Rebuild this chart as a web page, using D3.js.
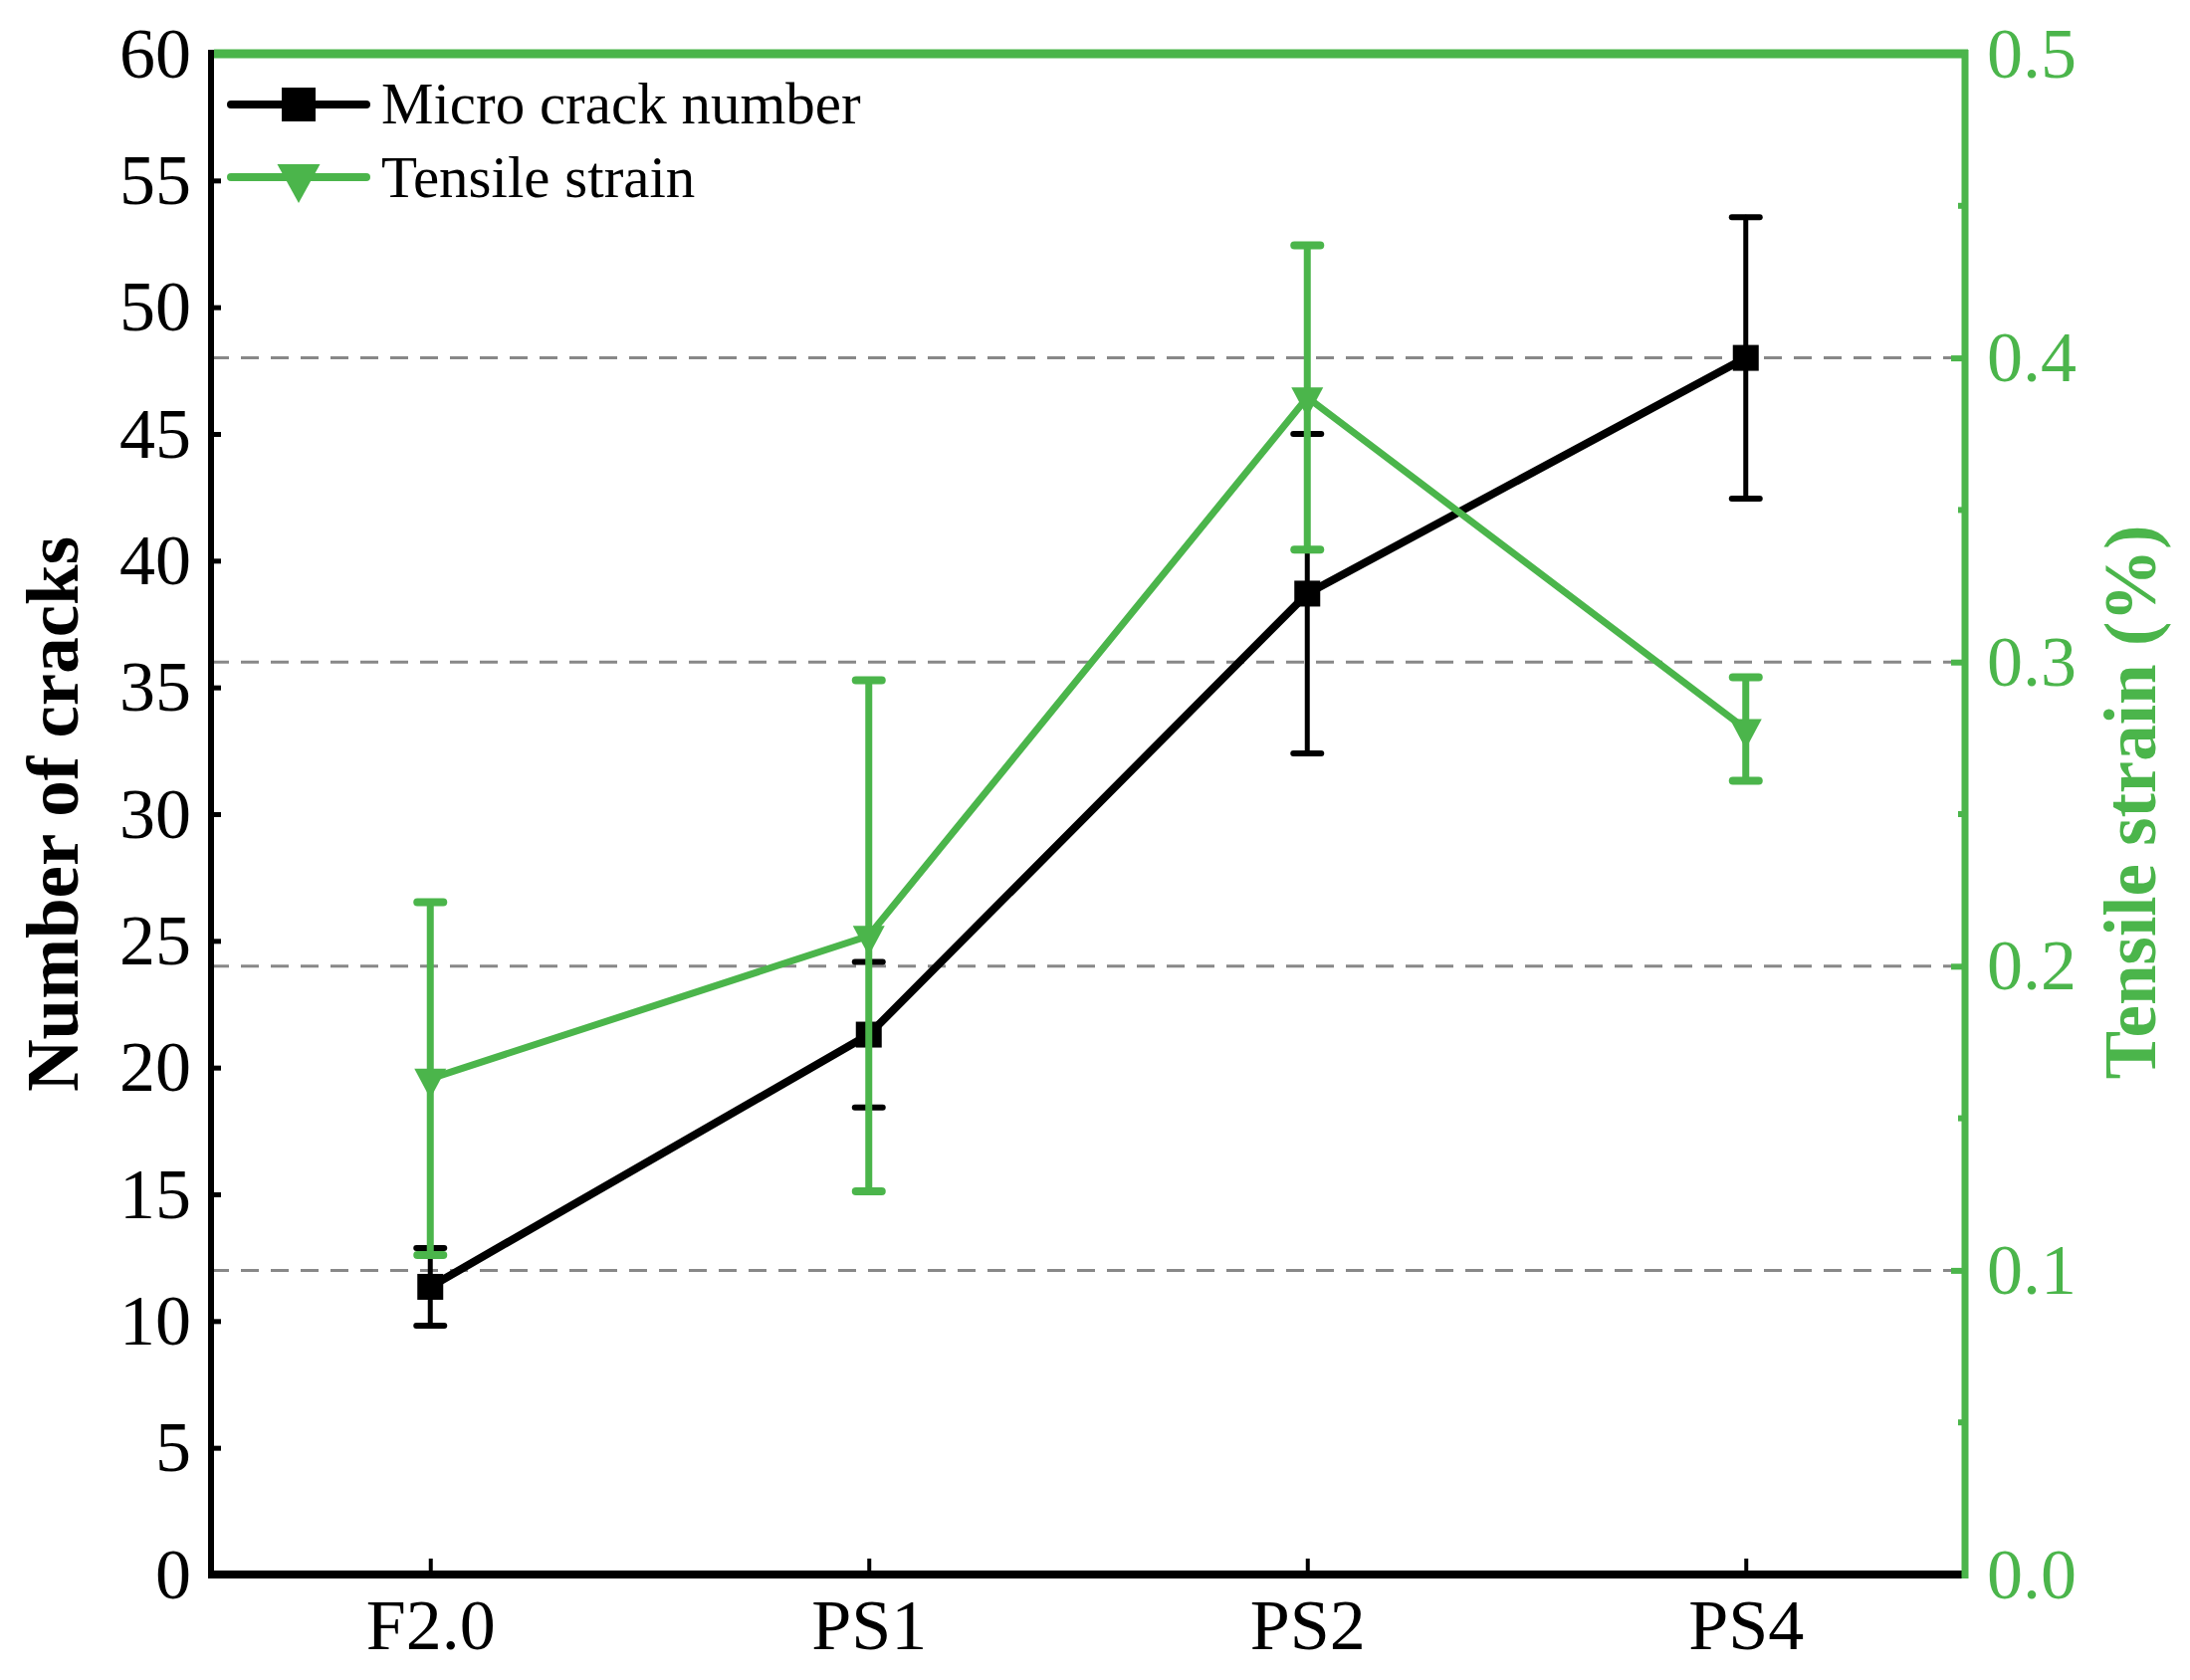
<!DOCTYPE html>
<html>
<head>
<meta charset="utf-8">
<script src="https://cdn.jsdelivr.net/npm/d3@7"></script>
<style>
  body { margin: 0; background: #fff; }
  text { font-family: "Liberation Serif", "Times New Roman", serif; }
</style>
</head>
<body>
<div id="chart"></div>
<script>
// data
const categories = ['F2.0', 'PS1', 'PS2', 'PS4'];
const crackNumber = [11.35, 21.3, 38.7, 48.0];
const crackError = [1.53, 2.87, 6.3, 5.55];
const tensileStrain = [0.163, 0.210, 0.387, 0.278];
const strainError = [0.058, 0.084, 0.050, 0.017];
const leftTicks = [0, 5, 10, 15, 20, 25, 30, 35, 40, 45, 50, 55, 60];
const rightTicks = [0.0, 0.1, 0.2, 0.3, 0.4, 0.5];
const rightMinor = [0.05, 0.15, 0.25, 0.35, 0.45];
const gridValues = [0.1, 0.2, 0.3, 0.4];

const width = 2200;
const height = 1688;
const margin = { top: 54, right: 226, bottom: 106, left: 212 };
const green = '#4bb54b';

const svg = d3.select('#chart')
  .append('svg')
  .attr('width', width)
  .attr('height', height);

const x = d3.scalePoint()
  .domain(categories)
  .range([margin.left, width - margin.right])
  .padding(0.5);

const yLeft = d3.scaleLinear()
  .domain([0, 60])
  .range([height - margin.bottom, margin.top]);

const yRight = d3.scaleLinear()
  .domain([0, 0.5])
  .range([height - margin.bottom, margin.top]);

const x0 = margin.left, x1 = width - margin.right;
const yTop = margin.top, yBot = height - margin.bottom;

// dashed grid lines (right axis)
svg.append('g')
  .selectAll('line')
  .data(gridValues)
  .join('line')
  .attr('x1', x0).attr('x2', x1)
  .attr('y1', d => yRight(d)).attr('y2', d => yRight(d))
  .attr('stroke', '#888')
  .attr('stroke-width', 3)
  .attr('stroke-dasharray', '18,12');

// left axis
const leftAxis = svg.append('g')
  .attr('transform', `translate(${x0},0)`)
  .call(d3.axisLeft(yLeft).tickValues(leftTicks).tickSizeInner(-10).tickSizeOuter(0).tickPadding(20));
leftAxis.select('.domain').remove();
leftAxis.selectAll('.tick line').attr('stroke', '#000').attr('stroke-width', 5);
leftAxis.selectAll('.tick text')
  .attr('font-size', 72).attr('fill', '#000');

// right axis
const rightAxis = svg.append('g')
  .attr('transform', `translate(${x1},0)`)
  .call(d3.axisRight(yRight).tickValues(rightTicks).tickFormat(d3.format('.1f'))
    .tickSizeInner(-14).tickSizeOuter(0).tickPadding(22));
rightAxis.select('.domain').remove();
rightAxis.selectAll('.tick line').attr('stroke', green).attr('stroke-width', 6);
rightAxis.selectAll('.tick text')
  .attr('font-size', 72).attr('fill', green);

svg.append('g')
  .selectAll('line')
  .data(rightMinor)
  .join('line')
  .attr('x1', x1 - 7).attr('x2', x1)
  .attr('y1', d => yRight(d)).attr('y2', d => yRight(d))
  .attr('stroke', green).attr('stroke-width', 6);

// bottom axis
const bottomAxis = svg.append('g')
  .attr('transform', `translate(0,${yBot})`)
  .call(d3.axisBottom(x).tickSizeInner(-16).tickSizeOuter(0).tickPadding(24));
bottomAxis.select('.domain').remove();
bottomAxis.selectAll('.tick line').attr('stroke', '#000').attr('stroke-width', 4);
bottomAxis.selectAll('.tick text')
  .attr('font-size', 72).attr('fill', '#000');

// frame
svg.append('line').attr('x1', x0).attr('x2', x0).attr('y1', yTop - 4).attr('y2', yBot + 4)
  .attr('stroke', '#000').attr('stroke-width', 6);
svg.append('line').attr('x1', x0 - 3).attr('x2', x1).attr('y1', yBot).attr('y2', yBot)
  .attr('stroke', '#000').attr('stroke-width', 8);
svg.append('line').attr('x1', x0 + 3).attr('x2', x1 + 3).attr('y1', yTop).attr('y2', yTop)
  .attr('stroke', green).attr('stroke-width', 9);
svg.append('line').attr('x1', x1).attr('x2', x1).attr('y1', yTop - 4).attr('y2', yBot + 4)
  .attr('stroke', green).attr('stroke-width', 7);

const crackData = categories.map((c, i) => ({ c, v: crackNumber[i], e: crackError[i] }));
const strainData = categories.map((c, i) => ({ c, v: tensileStrain[i], e: strainError[i] }));

// error bars for crack number
const blackErr = svg.append('g').attr('stroke', '#000').attr('stroke-linecap', 'round');
blackErr.selectAll('line.v').data(crackData).join('line')
  .attr('x1', d => x(d.c)).attr('x2', d => x(d.c))
  .attr('y1', d => yLeft(d.v - d.e)).attr('y2', d => yLeft(d.v + d.e))
  .attr('stroke-width', 5);
blackErr.selectAll('line.top').data(crackData).join('line')
  .attr('x1', d => x(d.c) - 14).attr('x2', d => x(d.c) + 14)
  .attr('y1', d => yLeft(d.v + d.e)).attr('y2', d => yLeft(d.v + d.e))
  .attr('stroke-width', 6);
blackErr.selectAll('line.bot').data(crackData).join('line')
  .attr('x1', d => x(d.c) - 14).attr('x2', d => x(d.c) + 14)
  .attr('y1', d => yLeft(d.v - d.e)).attr('y2', d => yLeft(d.v - d.e))
  .attr('stroke-width', 6);

// crack number line + squares
svg.append('path')
  .datum(crackData)
  .attr('fill', 'none')
  .attr('stroke', '#000')
  .attr('stroke-width', 8)
  .attr('d', d3.line().x(d => x(d.c)).y(d => yLeft(d.v)));

svg.append('g').selectAll('rect').data(crackData).join('rect')
  .attr('x', d => x(d.c) - 13).attr('y', d => yLeft(d.v) - 13)
  .attr('width', 26).attr('height', 26)
  .attr('fill', '#000');

// error bars for tensile strain
const greenErr = svg.append('g').attr('stroke', green).attr('stroke-linecap', 'round');
greenErr.selectAll('line.v').data(strainData).join('line')
  .attr('x1', d => x(d.c)).attr('x2', d => x(d.c))
  .attr('y1', d => yRight(d.v - d.e)).attr('y2', d => yRight(d.v + d.e))
  .attr('stroke-width', 7);
greenErr.selectAll('line.top').data(strainData).join('line')
  .attr('x1', d => x(d.c) - 13).attr('x2', d => x(d.c) + 13)
  .attr('y1', d => yRight(d.v + d.e)).attr('y2', d => yRight(d.v + d.e))
  .attr('stroke-width', 8);
greenErr.selectAll('line.bot').data(strainData).join('line')
  .attr('x1', d => x(d.c) - 13).attr('x2', d => x(d.c) + 13)
  .attr('y1', d => yRight(d.v - d.e)).attr('y2', d => yRight(d.v - d.e))
  .attr('stroke-width', 8);

// tensile strain line + triangles
svg.append('path')
  .datum(strainData)
  .attr('fill', 'none')
  .attr('stroke', green)
  .attr('stroke-width', 7)
  .attr('d', d3.line().x(d => x(d.c)).y(d => yRight(d.v)));

const tri = (cx, cy, w, h) => `M${cx - w / 2},${cy - h / 3}L${cx + w / 2},${cy - h / 3}L${cx},${cy + 2 * h / 3}Z`;
svg.append('g').selectAll('path').data(strainData).join('path')
  .attr('d', d => tri(x(d.c), yRight(d.v), 32, 30))
  .attr('fill', green);

// legend
const legend = svg.append('g');
legend.append('line').attr('x1', 232).attr('x2', 368).attr('y1', 105).attr('y2', 105)
  .attr('stroke', '#000').attr('stroke-width', 8).attr('stroke-linecap', 'round');
legend.append('rect').attr('x', 283).attr('y', 88).attr('width', 34).attr('height', 34).attr('fill', '#000');
legend.append('text').attr('x', 383).attr('y', 124).attr('font-size', 59).text('Micro crack number');

legend.append('line').attr('x1', 232).attr('x2', 368).attr('y1', 178).attr('y2', 178)
  .attr('stroke', green).attr('stroke-width', 8).attr('stroke-linecap', 'round');
legend.append('path').attr('d', tri(300, 178, 43, 39)).attr('fill', green);
legend.append('text').attr('x', 383).attr('y', 198).attr('font-size', 59).text('Tensile strain');

// axis titles
svg.append('text')
  .attr('transform', `translate(78,${(yTop + yBot) / 2}) rotate(-90)`)
  .attr('text-anchor', 'middle')
  .attr('font-size', 73)
  .attr('font-weight', 'bold')
  .text('Number of cracks');

svg.append('text')
  .attr('transform', `translate(2165,${(yTop + yBot) / 2 - 12}) rotate(-90)`)
  .attr('text-anchor', 'middle')
  .attr('font-size', 73)
  .attr('font-weight', 'bold')
  .attr('fill', green)
  .text('Tensile strain (%)');
</script>
</body>
</html>
